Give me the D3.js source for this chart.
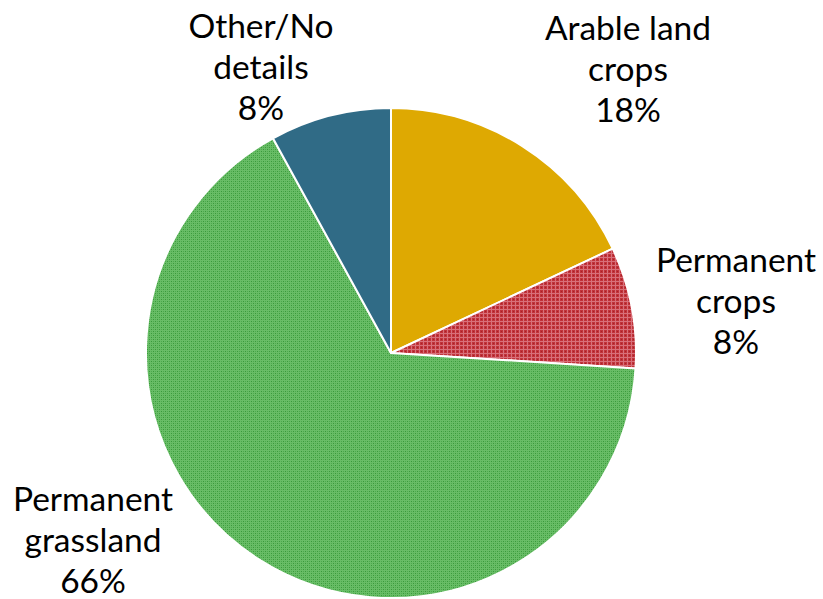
<!DOCTYPE html>
<html>
<head>
<meta charset="utf-8">
<script src="https://cdn.jsdelivr.net/npm/d3@7"></script>
<style>
  html, body { margin: 0; padding: 0; background: #fff; }
  svg { display: block; }
  text { font-family: Lato, "Open Sans", sans-serif; fill: #000; }
</style>
</head>
<body>
<svg id="chart" width="823" height="599"></svg>
<script>
// Land use shares (%)
const categories = ["Arable land crops", "Permanent crops", "Permanent grassland", "Other/No details"];
const values = [18, 8, 66, 8];
const labelLines = [["Arable land", "crops", "18%"], ["Permanent", "crops", "8%"], ["Permanent", "grassland", "66%"], ["Other/No", "details", "8%"]];
const fills = ["#dea902", "url(#redCheck)", "url(#greenCheck)", "#306b86"];

const svg = d3.select("#chart");
const cx = 391, cy = 353, R = 245;

// Small checkered fill patterns
const defs = svg.append("defs");
const red = defs.append("pattern").attr("id", "redCheck").attr("patternUnits", "userSpaceOnUse")
  .attr("width", 4).attr("height", 4);
red.append("rect").attr("width", 4).attr("height", 4).attr("fill", "#c1333a");
red.append("rect").attr("x", 0).attr("y", 0).attr("width", 4).attr("height", 1).attr("fill", "#d8707a");
red.append("rect").attr("x", 0).attr("y", 0).attr("width", 1).attr("height", 4).attr("fill", "#d8707a");
red.append("rect").attr("x", 2).attr("y", 2).attr("width", 1).attr("height", 1).attr("fill", "#a82028");

const green = defs.append("pattern").attr("id", "greenCheck").attr("patternUnits", "userSpaceOnUse")
  .attr("width", 4).attr("height", 4);
green.append("rect").attr("width", 4).attr("height", 4).attr("fill", "#68bd66");
green.append("rect").attr("x", 0).attr("y", 0).attr("width", 1).attr("height", 1).attr("fill", "#3a9a3b");
green.append("rect").attr("x", 2).attr("y", 2).attr("width", 1).attr("height", 1).attr("fill", "#3a9a3b");
green.append("rect").attr("x", 2).attr("y", 0).attr("width", 1).attr("height", 1).attr("fill", "#4faa4f");
green.append("rect").attr("x", 0).attr("y", 2).attr("width", 1).attr("height", 1).attr("fill", "#4faa4f");

const data = categories.map((c, i) => ({ name: c, value: values[i], fill: fills[i], lines: labelLines[i] }));

const pie = d3.pie().sort(null).value(d => d.value);
const arc = d3.arc().innerRadius(0).outerRadius(R);
const arcs = pie(data);

const g = svg.append("g").attr("transform", `translate(${cx},${cy})`);
g.selectAll("path").data(arcs).join("path")
  .attr("d", arc)
  .attr("fill", d => d.data.fill)
  .attr("stroke", "#fff")
  .attr("stroke-width", 2)
  .attr("stroke-linejoin", "round");

// Outside labels, anchored around each slice
const labelPos = [
  { x: 628, y: 40 },
  { x: 736, y: 272 },
  { x: 93, y: 511 },
  { x: 261, y: 38 }
];
const lineH = 41;
const lbl = svg.append("g");
arcs.forEach((a, i) => {
  const t = lbl.append("text")
    .attr("text-anchor", "middle")
    .attr("font-size", 33.5);
  a.data.lines.forEach((ln, j) => {
    t.append("tspan").attr("x", labelPos[i].x).attr("y", labelPos[i].y + j * lineH).text(ln);
  });
});
</script>
</body>
</html>
